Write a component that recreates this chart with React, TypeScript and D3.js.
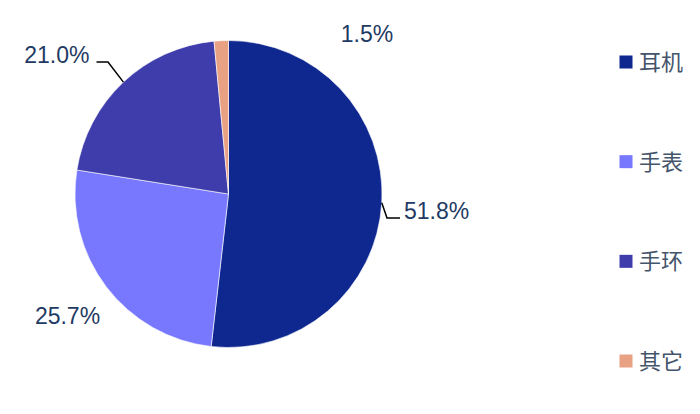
import React, { useEffect, useRef } from 'react';
import * as d3 from 'd3';

const categories = ['耳机', '手表', '手环', '其它'];
const shares = [51.8, 25.7, 21.0, 1.5];
const colors = ['#0e2890', '#7878ff', '#3e3dab', '#e9a183'];

const App: React.FC = () => {
  const ref = useRef<HTMLDivElement>(null);

  useEffect(() => {
    if (!ref.current) return;
    const width = 700;
    const height = 414;
    d3.select(ref.current).selectAll('*').remove();

    const svg = d3.select(ref.current)
      .append('svg')
      .attr('width', width)
      .attr('height', height)
      .style('display', 'block');

    const cx = 228.5;
    const cy = 194;
    const r = 153.5;

    const data = categories.map((c, i) => ({ name: c, value: shares[i], color: colors[i] }));
    const pie = d3.pie<any>().value((d: any) => d.value).sort(null);
    const arcs = pie(data);
    const arc = d3.arc<any>().innerRadius(0).outerRadius(r);

    const g = svg.append('g').attr('transform', `translate(${cx},${cy})`);

    g.selectAll('path')
      .data(arcs)
      .enter().append('path')
      .attr('d', arc as any)
      .attr('fill', (d: any) => d.data.color)
      .attr('stroke', '#ffffff')
      .attr('stroke-width', 0.6);

    // point on the rim at the middle of a slice
    const rim = (d: any) => {
      const a = (d.startAngle + d.endAngle) / 2;
      return [Math.sin(a) * r, -Math.cos(a) * r];
    };

    // label layout, relative to pie centre (Excel-style placements)
    const layout: any[] = [
      { leader: true, elbow: [r + 5, 24], end: [r + 18, 24], tx: r + 22, ty: 25, anchor: 'start' },
      { leader: false, tx: -161, ty: 130, anchor: 'middle' },
      { leader: true, elbow: [-120.5, -132], end: [-132, -132], tx: -139, ty: -131, anchor: 'end' },
      { leader: false, tx: 138.5, ty: -152, anchor: 'middle' },
    ];

    arcs.forEach((d: any, i: number) => {
      const L = layout[i];
      if (L.leader) {
        const p = rim(d);
        g.append('path')
          .attr('d', d3.line()([p as [number, number], L.elbow, L.end]) as string)
          .attr('fill', 'none')
          .attr('stroke', '#000000')
          .attr('stroke-width', 1.5);
      }
      g.append('text')
        .attr('x', L.tx)
        .attr('y', L.ty)
        .attr('text-anchor', L.anchor)
        .style('font-family', '"Liberation Sans", Arial, sans-serif')
        .style('font-size', '23px')
        .style('fill', '#1f3b63')
        .text(`${d.data.value.toFixed(1)}%`);
    });

    // legend
    const legendY = d3.scalePoint<string>()
      .domain(categories)
      .range([62, 361]);

    const legend = svg.append('g');
    categories.forEach((c, i) => {
      const y = legendY(c) as number;
      legend.append('rect')
        .attr('x', 619.5)
        .attr('y', y - 6.5)
        .attr('width', 13)
        .attr('height', 13)
        .attr('fill', colors[i]);
      legend.append('text')
        .attr('x', 639)
        .attr('y', y + 8)
        .style('font-family', '"Noto Sans CJK SC", sans-serif')
        .style('font-size', '22px')
        .style('fill', '#44546a')
        .text(c);
    });
  }, []);

  return <div ref={ref} style={{ margin: -8, background: '#fff' }}></div>;
};

export default App;
